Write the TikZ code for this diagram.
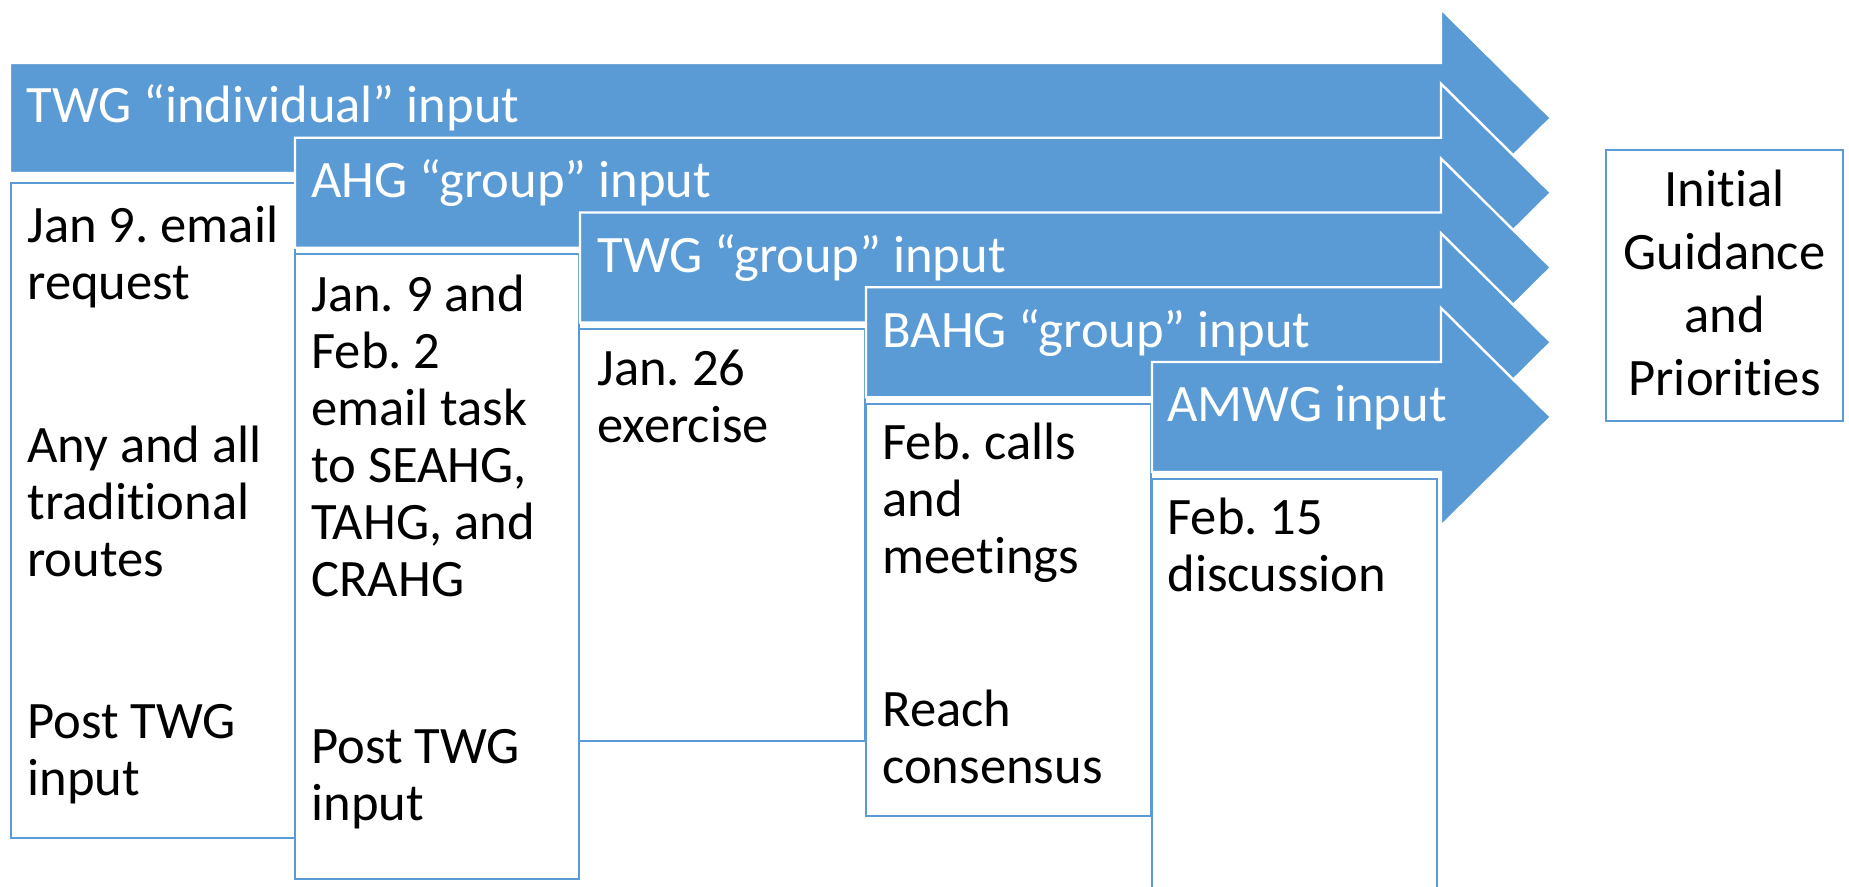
\documentclass[tikz,border=0pt]{standalone}
\usepackage{fontspec}
\setmainfont{Carlito}[Ligatures={NoCommon,NoContextual,NoRare},Contextuals=NoAlternate]
\frenchspacing
\definecolor{acc}{HTML}{5B9BD5}
\newcommand{\blines}[1]{\begin{tabular}[t]{@{}l@{}}#1\end{tabular}}
\newcommand{\clines}[1]{\begin{tabular}[t]{@{}c@{}}#1\end{tabular}}
\begin{document}
\begin{tikzpicture}[x=0.5pt,y=-0.5pt,
  arrowshape/.style={fill=acc,draw=white,line width=1.2pt,line join=miter},
  tbox/.style={fill=white,draw=acc,line width=1pt},
  alabel/.style={anchor=base west,text=white,inner sep=0pt,font=\fontsize{26.3}{28.5}\selectfont},
  blabel/.style={anchor=base west,text=black,inner sep=0pt,font=\fontsize{26.3}{28.5}\selectfont},
  glabel/.style={anchor=base,text=black,inner sep=0pt,font=\fontsize{26.3}{31.5}\selectfont},
]
\useasboundingbox (0,0) rectangle (1849,887);
\clip (0,0) rectangle (1849,887);
% arrow 1
\draw[arrowshape] (10,63) -- (1441,63) -- (1441,9) -- (1551,118) -- (1441,227) -- (1441,173) -- (10,173) -- cycle;
\node[alabel] (a1) at (26,123) {TWG “individual” input};
\draw[tbox] (11,183) rectangle (295,838);
\node[blabel] (b1a) at (27,243) {\blines{Jan 9. email\\request}};
\node[blabel] (b1b) at (27,463) {\blines{Any and all\\traditional\\routes}};
\node[blabel] (b1c) at (27,738) {\blines{Post TWG\\input}};
% arrow 2
\draw[arrowshape] (295,137.75) -- (1441,137.75) -- (1441,83.75) -- (1551,192.75) -- (1441,301.75) -- (1441,247.75) -- (295,247.75) -- cycle;
\node[alabel] (a2) at (311,197.75) {AHG “group” input};
\draw[tbox] (295,254) rectangle (579,879);
\node[blabel] (b2a) at (311,312) {\blines{Jan. 9 and\\Feb. 2\\email task\\to SEAHG,\\TAHG, and\\CRAHG}};
\node[blabel] (b2b) at (311,763) {\blines{Post TWG\\input}};
% arrow 3
\draw[arrowshape] (580,212.5) -- (1441,212.5) -- (1441,158.5) -- (1551,267.5) -- (1441,376.5) -- (1441,322.5) -- (580,322.5) -- cycle;
\node[alabel] (a3) at (597,272.5) {TWG “group” input};
\draw[tbox] (579,329) rectangle (865,741);
\node[blabel] (b3a) at (597,386) {\blines{Jan. 26\\exercise}};
% arrow 4
\draw[arrowshape] (866,287.25) -- (1441,287.25) -- (1441,233.25) -- (1551,342.25) -- (1441,451.25) -- (1441,397.25) -- (866,397.25) -- cycle;
\node[alabel] (a4) at (882,347.25) {BAHG “group” input};
\draw[tbox] (866,404) rectangle (1151,816);
\node[blabel] (b4a) at (882,460) {\blines{Feb. calls\\and\\meetings}};
\node[blabel] (b4b) at (882,726) {\blines{Reach\\consensus}};
% arrow 5
\draw[arrowshape] (1152,362) -- (1441,362) -- (1441,308) -- (1551,417) -- (1441,526) -- (1441,472) -- (1152,472) -- cycle;
\node[alabel] (a5) at (1167,422) {AMWG input};
\draw[tbox] (1152,479) rectangle (1437,900);
\node[blabel] (b5a) at (1167,535) {\blines{Feb. 15\\discussion}};
% result box
\draw[tbox] (1606,150) rectangle (1843,421);
\node[glabel] (g) at (1724.5,207) {\clines{Initial\\Guidance\\and\\Priorities}};
\end{tikzpicture}
\end{document}
